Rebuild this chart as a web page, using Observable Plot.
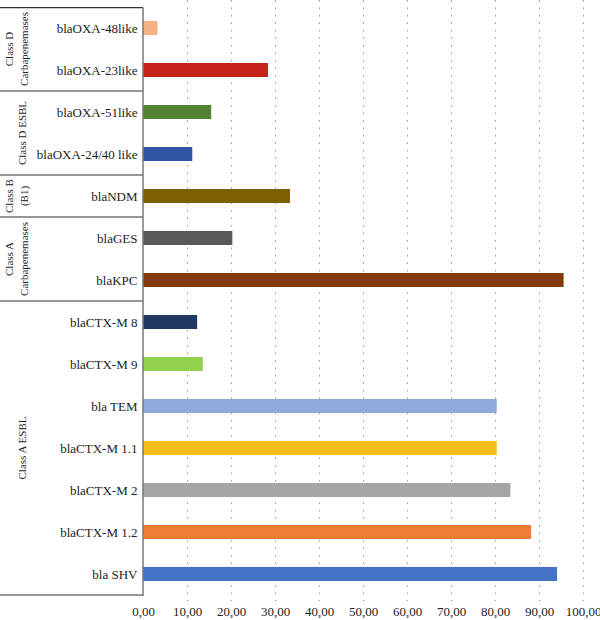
<!DOCTYPE html>
<html>
<head>
<meta charset="utf-8">
<script src="https://cdn.jsdelivr.net/npm/d3@7"></script>
<script src="https://cdn.jsdelivr.net/npm/@observablehq/plot@0.6"></script>
<style>
  body { margin: 0; background: #fff; }
  #chart svg { display: block; overflow: visible; }
</style>
</head>
<body>
<div id="chart"></div>
<script>
// Genes, top to bottom
const genes = [
  "blaOXA-48like", "blaOXA-23like", "blaOXA-51like", "blaOXA-24/40 like",
  "blaNDM", "blaGES", "blaKPC", "blaCTX-M 8", "blaCTX-M 9", "bla TEM",
  "blaCTX-M 1.1", "blaCTX-M 2", "blaCTX-M 1.2", "bla SHV"
];
const values = [3.3, 28.4, 15.5, 11.2, 33.4, 20.3, 95.6, 12.3, 13.6, 80.4, 80.4, 83.5, 88.2, 94.1];
const colors = [
  "#F4B183", "#C5221A", "#548235", "#2F55A4", "#7F6000", "#595959", "#843C0C",
  "#203864", "#92D050", "#8FAADC", "#FBBF1A", "#A5A5A5", "#ED7D31", "#4472C4"
];
// Group labels: first gene, last gene, label lines
const groupFirst = ["blaOXA-48like", "blaOXA-51like", "blaNDM", "blaGES", "blaCTX-M 8"];
const groupLast = ["blaOXA-23like", "blaOXA-24/40 like", "blaNDM", "blaKPC", "bla SHV"];
const groupLabels = [["Class D", "Carbapenemases"], ["Class D ESBL"], ["Class B", "(B1)"], ["Class A", "Carbapenemases"], ["Class A ESBL"]];
const xTicks = [0, 10, 20, 30, 40, 50, 60, 70, 80, 90, 100];

(function () {
const data = genes.map((g, i) => ({gene: g, value: values[i], color: colors[i]}));
const fmt = d => d.toFixed(2).replace(".", ",");
const font = "'Liberation Serif', 'DejaVu Serif', serif";

const plot = Plot.plot({
  width: 600,
  height: 620,
  marginLeft: 143,
  marginRight: 17,
  marginTop: 0,
  marginBottom: 19,
  style: {fontFamily: font, fontSize: "12.5px", color: "#222", background: "#fff"},
  x: {domain: [0, 100], ticks: xTicks, tickFormat: fmt, label: null},
  y: {domain: genes, paddingInner: 0.67, paddingOuter: 0.335, label: null},
  marks: [
    Plot.ruleX(xTicks.filter(d => d > 0), {stroke: "#999", strokeDasharray: "1.5,6", strokeWidth: 1}),
    Plot.barX(data, {x: "value", y: "gene", fill: "color"}),
    Plot.axisX({ticks: xTicks, tickFormat: fmt, tickSize: 0, tickPadding: 5, fontSize: 13, fill: "#222"}),
    Plot.axisY({tickSize: 0, tickPadding: 6, fontSize: 13, fill: "#222"})
  ]
});

// Group boxes on the left, positioned with the plot's own y band scale
const y = plot.scale("y");
const step = y.step;
const bw = y.bandwidth;
const bandTop = g => y.apply(g) + bw / 2 - step / 2;
const bandBottom = g => y.apply(g) + bw / 2 + step / 2;
const x0 = plot.scale("x").apply(0);

const svg = d3.select(plot);
const gLayer = svg.append("g");
const boundaries = [bandTop(groupFirst[0]) + 0.6].concat(groupLast.map(bandBottom));
gLayer.selectAll("line.h").data(boundaries).join("line")
  .attr("x1", 0).attr("x2", x0).attr("y1", d => d).attr("y2", d => d)
  .attr("stroke", "#333").attr("stroke-width", 1.2);
gLayer.append("line")
  .attr("x1", x0).attr("x2", x0)
  .attr("y1", boundaries[0]).attr("y2", boundaries[boundaries.length - 1] + 1)
  .attr("stroke", "#777").attr("stroke-width", 1.5);

groupLabels.forEach((lines, i) => {
  const cy = (bandTop(groupFirst[i]) + bandBottom(groupLast[i])) / 2;
  const xs = lines.length === 2 ? [10, 25] : [23];
  lines.forEach((txt, j) => {
    gLayer.append("text")
      .attr("transform", `translate(${xs[j]},${cy}) rotate(-90)`)
      .attr("text-anchor", "middle")
      .attr("dominant-baseline", "middle")
      .attr("font-family", font)
      .attr("font-size", 11)
      .attr("fill", "#222")
      .text(txt);
  });
});

document.getElementById("chart").appendChild(plot);
})();
</script>
</body>
</html>
